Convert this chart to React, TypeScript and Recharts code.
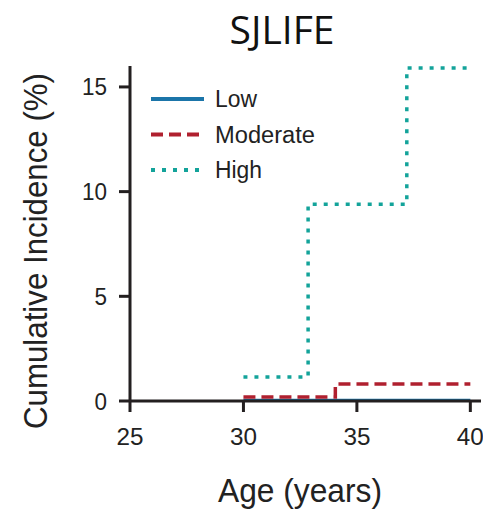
import { LineChart, Line, XAxis, YAxis } from 'recharts'

// Cumulative incidence step curves
const lowAges = [30, 40]
const lowValues = [0.05, 0.05]

const moderateAges = [30, 34.05, 40]
const moderateValues = [0.19, 0.81, 0.81]

const highAges = [30, 32.85, 37.2, 40]
const highValues = [1.15, 9.4, 15.9, 15.9]

const xTicks = [25, 30, 35, 40]
const yTicks = [0, 5, 10, 15]

const legendItems = [
  { name: 'Low', color: '#1b75a9', dash: undefined, width: 42 },
  { name: 'Moderate', color: '#b0202f', dash: '12 6', width: 100 },
  { name: 'High', color: '#13a39a', dash: '4 7', width: 47 },
]

const SANS = '"Liberation Sans", Arial, sans-serif'
const AXIS = '#231f20'
const INK = '#222'

const toRows = (ages: number[], values: number[]) =>
  ages.map((age, i) => ({ age, value: values[i] }))

// condensed-looking tick labels (the original uses a narrow face)
function XTick({ x, y, payload }: any) {
  return (
    <text x={x} y={y + 31} textAnchor="middle" fill={INK} fontSize={24} fontFamily={SANS}
      textLength={payload.value >= 10 ? 27 : 13} lengthAdjust="spacingAndGlyphs">
      {payload.value}
    </text>
  )
}

function YTick({ x, y, payload }: any) {
  const s = String(payload.value)
  return (
    <text x={x - 10} y={y + 8.5} textAnchor="end" fill={INK} fontSize={24} fontFamily={SANS}
      textLength={s.length * 12.5} lengthAdjust="spacingAndGlyphs">
      {s}
    </text>
  )
}

export default function App() {
  const series = [
    { key: 'low', data: toRows(lowAges, lowValues), ...legendItems[0] },
    { key: 'moderate', data: toRows(moderateAges, moderateValues), ...legendItems[1] },
    { key: 'high', data: toRows(highAges, highValues), ...legendItems[2] },
  ]

  return (
    <div style={{ position: 'absolute', left: 0, top: 0, width: 483, height: 511, background: '#fff' }}>
      <LineChart width={483} height={511} margin={{ top: 66, right: 2, bottom: 70, left: 70 }}>
        <XAxis
          type="number"
          dataKey="age"
          domain={[25, 40.47]}
          ticks={xTicks}
          allowDuplicatedCategory={false}
          stroke={AXIS}
          strokeWidth={3}
          tickSize={11}
          tickLine={{ stroke: AXIS, strokeWidth: 3 }}
          tick={<XTick />}
          height={40}
        />
        <YAxis
          type="number"
          domain={[0, 16]}
          ticks={yTicks}
          stroke={AXIS}
          strokeWidth={3}
          tickSize={11}
          tickLine={{ stroke: AXIS, strokeWidth: 3 }}
          tick={<YTick />}
          width={60}
        />
        {series.map(s => (
          <Line
            key={s.key}
            data={s.data}
            dataKey="value"
            type="stepAfter"
            stroke={s.color}
            strokeWidth={s.key === 'low' ? 2.5 : 3.5}
            strokeDasharray={s.dash}
            dot={false}
            activeDot={false}
            isAnimationActive={false}
          />
        ))}
      </LineChart>

      {/* title, axis titles and legend */}
      <svg width={483} height={511} style={{ position: 'absolute', left: 0, top: 0, pointerEvents: 'none' }}>
        <text x={282} y={44} textAnchor="middle" fontSize={39} fontFamily='"Open Sans", sans-serif'
          fill="#111">
          SJLIFE
        </text>
        <text x={300} y={502} textAnchor="middle" fontSize={33} fontFamily={SANS} fill={INK}
          textLength={164} lengthAdjust="spacingAndGlyphs">
          Age (years)
        </text>
        <text transform="translate(47 251) rotate(-90)" textAnchor="middle" fontSize={34} fontFamily={SANS}
          fill={INK} textLength={356} lengthAdjust="spacingAndGlyphs">
          Cumulative Incidence (%)
        </text>
        {legendItems.map((item, i) => {
          const y = 99 + i * 35.5
          return (
            <g key={item.name}>
              <line x1={151} x2={204} y1={y} y2={y} stroke={item.color} strokeWidth={4}
                strokeDasharray={item.dash} />
              <text x={215} y={y + 8} fontSize={23} fontFamily={SANS} fill={INK}
                textLength={item.width} lengthAdjust="spacingAndGlyphs">
                {item.name}
              </text>
            </g>
          )
        })}
      </svg>
    </div>
  )
}
